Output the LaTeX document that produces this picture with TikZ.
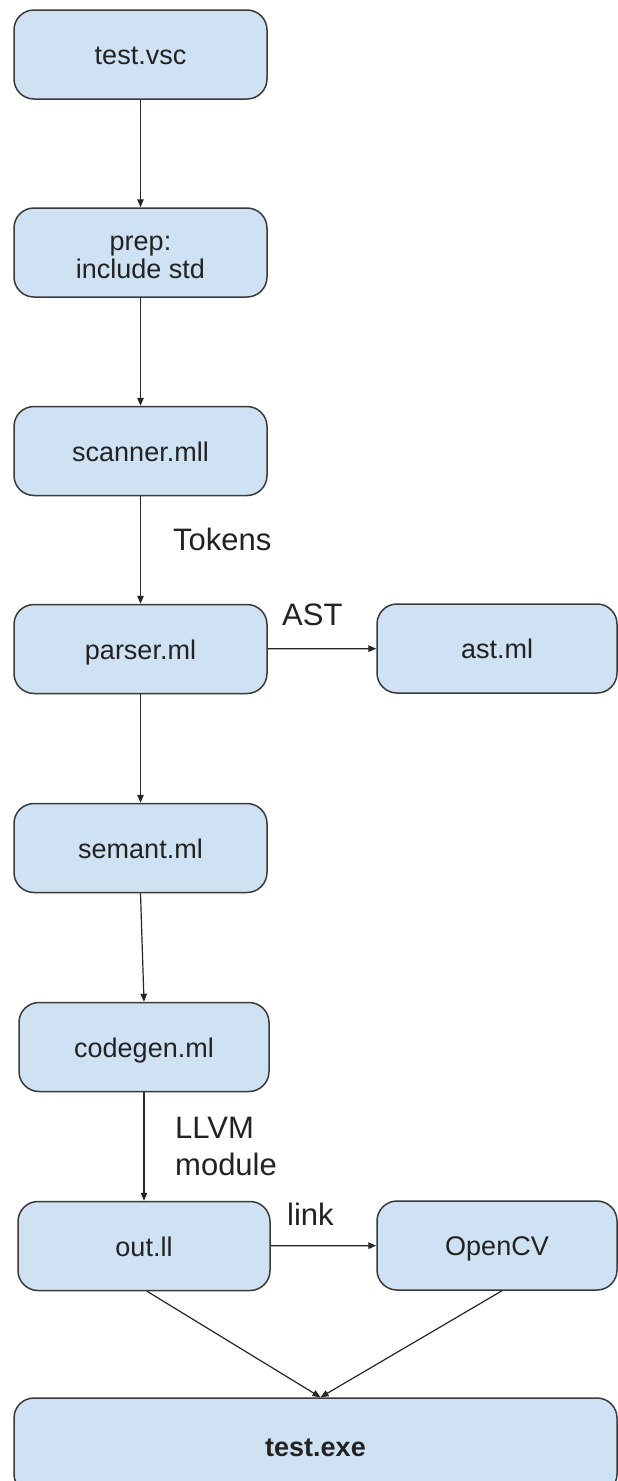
\documentclass[tikz,border=0pt]{standalone}
\usepackage{fontspec}
\setmainfont{Liberation Sans}
\usetikzlibrary{arrows.meta,calc}
\definecolor{boxfill}{HTML}{CFE2F3}
\definecolor{boxline}{HTML}{3A3A3A}
\definecolor{txt}{HTML}{222222}
\begin{document}
\begin{tikzpicture}[x=1pt,y=-1pt,
  stagebox/.style={draw=boxline, fill=boxfill, line width=1.5pt, rounded corners=20pt,
    minimum width=253pt, minimum height=89pt, inner sep=0pt, text=txt, align=center,
    font=\fontsize{27}{29}\selectfont, text height=20.5pt, text depth=0pt},
  plaintext/.style={text=txt, font=\fontsize{27}{28}\selectfont, inner sep=0pt, align=center},
  lbl/.style={text=txt, font=\fontsize{31}{37}\selectfont, inner sep=0pt, anchor=west, align=left},
  conn/.style={draw=black!85, line width=1.2pt, -{Triangle[length=8pt,width=6.5pt]}}]
\clip (0,0) rectangle (618,1481);
\fill[white] (0,0) rectangle (618,1481);

\node[stagebox] (vsc) at (140.5,54.5) {test.vsc};
\node[stagebox] (prep) at (140.5,252.5) {};
\node[plaintext] (prept) at (140.5,257) {prep:\\include std};
\node[stagebox] (scan) at (140.5,451) {scanner.mll};
\node[stagebox] (parse) at (140.5,649) {parser.ml};
\node[stagebox, minimum width=240pt] (ast) at (497,648.5) {ast.ml};
\node[stagebox] (sem) at (140.5,848) {semant.ml};
\node[stagebox, minimum width=250pt] (cg) at (144,1047) {codegen.ml};
\node[stagebox, minimum width=252pt] (out) at (144,1246) {out.ll};
\node[stagebox, minimum width=240pt] (cv) at (497,1245.5) {OpenCV};
\node[stagebox, minimum width=603pt, minimum height=96pt, font=\fontsize{27}{29}\selectfont\bfseries] (exe) at (315.5,1446) {test.exe};

\draw[conn] (vsc) -- (prep);
\draw[conn] (prep) -- (scan);
\draw[conn] (scan) -- (parse);
\draw[conn] (parse) -- (ast);
\draw[conn] (parse) -- (sem);
\draw[conn] (sem.south) -- (cg.north);
\draw[conn] (cg) -- (out);
\draw[conn] (out) -- (cv);
\coordinate (meet) at ($(exe.north)+(5,0)$);
\draw[conn] ($(out.south)+(3,0)$) -- (meet);
\draw[conn] ($(cv.south)+(5,0)$) -- (meet);

\node[lbl] (ltok) at (173,539) {Tokens};
\node[lbl] (last) at (282,615) {AST};
\node[lbl] (lllvm) at (175,1146) {LLVM\\module};
\node[lbl] (llink) at (287,1214) {link};
\end{tikzpicture}
\end{document}
